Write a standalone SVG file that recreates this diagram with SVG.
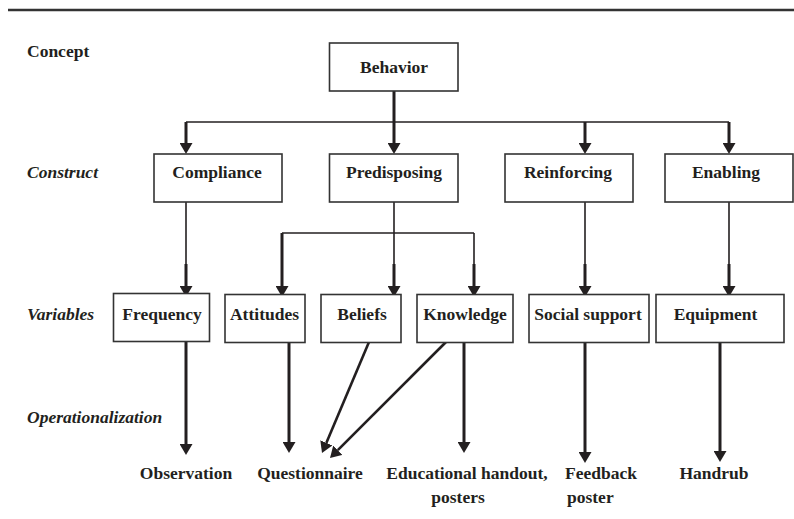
<svg xmlns="http://www.w3.org/2000/svg" width="794" height="519" viewBox="0 0 794 519">
<defs>
<marker id="ah" viewBox="0 -6.5 11 13" refX="0" refY="0" markerWidth="11" markerHeight="13" markerUnits="userSpaceOnUse" orient="auto">
<path d="M0,-6.5 L11,0 L0,6.5 z" fill="#231f20"/>
</marker>
<style>
.t{font-family:"Liberation Serif","Times New Roman",serif;font-weight:bold;font-size:17.5px;fill:#231f20}
.i{font-style:italic}
.m{text-anchor:middle}
.box{fill:#fff;stroke:#333;stroke-width:1.6}
.thin{stroke:#231f20;stroke-width:1.6;fill:none}
.thick{stroke:#231f20;stroke-width:3;fill:none}
.arr{stroke:#231f20;stroke-width:3;fill:none;marker-end:url(#ah)}
.diag{stroke:#231f20;stroke-width:2.6;fill:none;marker-end:url(#ah)}
</style>
</defs>
<rect width="794" height="519" fill="#fff"/>
<line x1="8" y1="10" x2="794" y2="10" stroke="#333" stroke-width="2.5"/>
<g id="levels">
<text class="t" x="27" y="57">Concept</text>
<text class="t i" x="27" y="178">Construct</text>
<text class="t i" x="27" y="320">Variables</text>
<text class="t i" x="27" y="423">Operationalization</text>
</g>
<g id="connectors">
<line class="arr" x1="394" y1="91" x2="394" y2="143"/>
<line class="thin" x1="186" y1="122" x2="729" y2="122"/>
<line class="arr" x1="186" y1="122" x2="186" y2="143"/>
<line class="arr" x1="585" y1="122" x2="585" y2="143"/>
<line class="arr" x1="729" y1="122" x2="729" y2="143"/>
<line class="thin" x1="186" y1="202" x2="186" y2="265"/>
<line class="arr" x1="186" y1="264" x2="186" y2="286"/>
<line class="thin" x1="394" y1="202" x2="394" y2="265"/>
<line class="arr" x1="394" y1="264" x2="394" y2="286"/>
<line class="thin" x1="282" y1="233" x2="474" y2="233"/>
<line class="arr" x1="282" y1="233" x2="282" y2="286"/>
<line class="thin" x1="474" y1="233" x2="474" y2="265"/>
<line class="arr" x1="474" y1="264" x2="474" y2="286"/>
<line class="thin" x1="585" y1="202" x2="585" y2="265"/>
<line class="arr" x1="585" y1="264" x2="585" y2="286"/>
<line class="thin" x1="729" y1="202" x2="729" y2="265"/>
<line class="arr" x1="729" y1="264" x2="729" y2="286"/>
<line class="arr" x1="186" y1="342" x2="186" y2="444"/>
<line class="arr" x1="289" y1="342" x2="289" y2="442"/>
<line class="diag" x1="369" y1="342" x2="326.3" y2="442.9"/>
<line class="diag" x1="446" y1="342" x2="337.8" y2="450.2"/>
<line class="arr" x1="464" y1="342" x2="464" y2="442"/>
<line class="arr" x1="585" y1="342" x2="585" y2="452"/>
<line class="arr" x1="720" y1="342" x2="720" y2="451"/>
</g>
<g id="behavior"><rect class="box" x="329.5" y="43" width="128.5" height="48"/><text class="t m" x="394" y="73">Behavior</text></g>
<g id="compliance"><rect class="box" x="154" y="154" width="128" height="48"/><text class="t m" x="217" y="178">Compliance</text></g>
<g id="predisposing"><rect class="box" x="329.5" y="154" width="128.5" height="48"/><text class="t m" x="394" y="178">Predisposing</text></g>
<g id="reinforcing"><rect class="box" x="505" y="154" width="128" height="48"/><text class="t m" x="568" y="178">Reinforcing</text></g>
<g id="enabling"><rect class="box" x="665" y="154" width="128" height="48"/><text class="t m" x="726" y="178">Enabling</text></g>
<g id="frequency"><rect class="box" x="113.5" y="293.5" width="96" height="48"/><text class="t m" x="162" y="320">Frequency</text></g>
<g id="attitudes"><rect class="box" x="225" y="294.5" width="80" height="48"/><text class="t m" x="264.5" y="320">Attitudes</text></g>
<g id="beliefs"><rect class="box" x="321" y="294.5" width="80" height="48"/><text class="t m" x="362" y="320">Beliefs</text></g>
<g id="knowledge"><rect class="box" x="417" y="294.5" width="96" height="48"/><text class="t m" x="465" y="320">Knowledge</text></g>
<g id="social-support"><rect class="box" x="529" y="294.5" width="120" height="48"/><text class="t m" x="588" y="320">Social support</text></g>
<g id="equipment"><rect class="box" x="656" y="294.5" width="128" height="48"/><text class="t m" x="715.5" y="320">Equipment</text></g>
<g id="observation"><text class="t m" x="186" y="479">Observation</text></g>
<g id="questionnaire"><text class="t m" x="310" y="479">Questionnaire</text></g>
<g id="educational"><text class="t m" x="467" y="479">Educational handout,</text><text class="t m" x="458" y="503">posters</text></g>
<g id="feedback"><text class="t" x="565" y="479">Feedback</text><text class="t" x="567" y="503">poster</text></g>
<g id="handrub"><text class="t m" x="714" y="479">Handrub</text></g>
</svg>
